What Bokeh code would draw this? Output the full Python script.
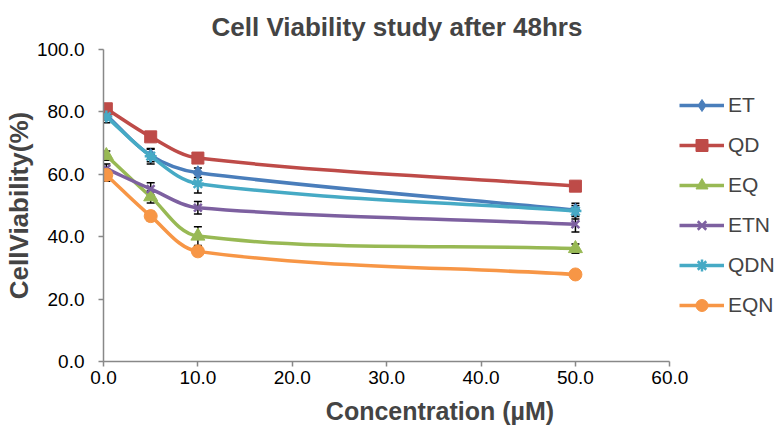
import math
from bokeh.plotting import figure
from bokeh.models import (ColumnDataSource, Whisker, TeeHead, Legend, LegendItem,
                          Range1d, FixedTicker, NumeralTickFormatter)
from bokeh.embed import file_html
from bokeh.resources import INLINE

# ---- data ----
conc = [0.3, 5, 10, 50]
series_names = ["ET", "QD", "EQ", "ETN", "QDN", "EQN"]
et = [79.0, 66.0, 60.5, 48.5]
qd = [81.0, 72.0, 65.2, 56.2]
eq = [66.0, 52.8, 40.2, 36.2]
etn = [61.8, 55.3, 49.3, 44.0]
qdn = [78.5, 65.8, 57.0, 48.2]
eqn = [59.8, 46.6, 35.3, 27.9]
et_err = [1.5, 2.0, 1.5, 1.5]
qd_err = [1.0, 1.5, 1.5, 1.5]
eq_err = [1.5, 2.0, 3.0, 1.5]
etn_err = [1.5, 2.0, 2.0, 2.5]
qdn_err = [2.0, 2.5, 3.0, 2.5]
eqn_err = [2.0, 1.5, 1.5, 1.0]
y_ticks = [0, 20, 40, 60, 80, 100]
x_ticks = [0, 10, 20, 30, 40, 50, 60]

values = [et, qd, eq, etn, qdn, eqn]
errors = [et_err, qd_err, eq_err, etn_err, qdn_err, eqn_err]
colors = ["#4A7EBB", "#BE4B48", "#98B954", "#7D60A0", "#46AAC5", "#F79646"]
markers = ["diamond", "square", "triangle", "x", "asterisk", "circle"]
msizes = [14, 12, 14, 11, 12, 13]

W, H = 776, 429
LEFT, RIGHT, TOP, BOTTOM = 101, 0, 49, 68
AXIS_LEN = 568.0
fw = W - LEFT - RIGHT
fh = H - TOP - BOTTOM
sx = AXIS_LEN / 60.0
sy = fh / 100.0
x_end = fw / sx

p = figure(width=W, height=H, output_backend="svg", toolbar_location=None,
           x_range=Range1d(0, x_end), y_range=Range1d(0, 100),
           min_border_left=LEFT, min_border_right=RIGHT,
           min_border_top=TOP, min_border_bottom=BOTTOM)
p.outline_line_color = None
p.xgrid.grid_line_color = None
p.ygrid.grid_line_color = None

p.title.text = "Cell Viability study after 48hrs"
p.title.align = "left"
p.title.offset = 108
p.title.text_font = "Liberation Sans"
p.title.text_font_style = "bold"
p.title.text_font_size = "26px"
p.title.standoff = 15

for ax in (p.xaxis[0], p.yaxis[0]):
    ax.axis_line_color = "#888888"
    ax.axis_line_width = 1.5
    ax.major_tick_line_color = "#888888"
    ax.major_tick_line_width = 1.5
    ax.major_tick_out = 5
    ax.major_tick_in = 0
    ax.minor_tick_line_color = None
    ax.major_label_text_font = "Liberation Sans"
    ax.major_label_text_font_size = "19px"
    ax.major_label_text_color = "black"
    ax.axis_label_text_font = "Liberation Sans"
    ax.axis_label_text_font_style = "bold"
    ax.formatter = NumeralTickFormatter(format="0.0")

p.xaxis[0].bounds = (0, 60)
p.xaxis[0].ticker = FixedTicker(ticks=x_ticks)
p.yaxis[0].ticker = FixedTicker(ticks=y_ticks)
p.xaxis[0].axis_label = "Concentration (µM)"
p.yaxis[0].axis_label = "CellViability(%)"
p.xaxis[0].axis_label_text_font_size = "25px"
p.yaxis[0].axis_label_text_font_size = "26px"
p.xaxis[0].major_label_standoff = 4
p.yaxis[0].major_label_standoff = 14
p.xaxis[0].axis_label_standoff = 10
p.yaxis[0].axis_label_standoff = 0


def smooth(xs, ys, k=0.33):
    P = [(x * sx, y * sy) for x, y in zip(xs, ys)]
    n = len(P)
    out = dict(x0=[], y0=[], x1=[], y1=[], cx0=[], cy0=[], cx1=[], cy1=[])
    for i in range(n - 1):
        p0 = P[i - 1] if i > 0 else P[i]
        p1, p2 = P[i], P[i + 1]
        p3 = P[i + 2] if i + 2 < n else P[i + 1]
        L = math.hypot(p2[0] - p1[0], p2[1] - p1[1])
        t1 = (p2[0] - p0[0], p2[1] - p0[1])
        n1 = math.hypot(*t1)
        t2 = (p3[0] - p1[0], p3[1] - p1[1])
        n2 = math.hypot(*t2)
        c1 = (p1[0] + t1[0] / n1 * L * k, p1[1] + t1[1] / n1 * L * k)
        c2 = (p2[0] - t2[0] / n2 * L * k, p2[1] - t2[1] / n2 * L * k)
        out["x0"].append(p1[0] / sx); out["y0"].append(p1[1] / sy)
        out["x1"].append(p2[0] / sx); out["y1"].append(p2[1] / sy)
        out["cx0"].append(c1[0] / sx); out["cy0"].append(c1[1] / sy)
        out["cx1"].append(c2[0] / sx); out["cy1"].append(c2[1] / sy)
    return out


items = []
scatters = []
for name, ys, err, c, m, ms in zip(series_names, values, errors, colors, markers, msizes):
    bz = p.bezier(source=ColumnDataSource(smooth(conc, ys)), x0="x0", y0="y0", x1="x1", y1="y1",
                  cx0="cx0", cy0="cy0", cx1="cx1", cy1="cy1", line_color=c, line_width=3.5)
    src = ColumnDataSource(dict(x=conc, y=ys,
                                lo=[v - e for v, e in zip(ys, err)],
                                hi=[v + e for v, e in zip(ys, err)]))
    if m in ("x", "asterisk"):
        sc = p.scatter("x", "y", source=src, marker=m, size=ms, line_color=c, line_width=2.5,
                       fill_color=c)
    else:
        sc = p.scatter("x", "y", source=src, marker=m, size=ms, line_color=c, fill_color=c)
    scatters.append((src, sc))
    items.append(LegendItem(label=name, renderers=[bz, sc]))

for src, sc in scatters:
    w = Whisker(source=src, base="x", lower="lo", upper="hi", line_color="black", line_width=1.5,
                upper_head=TeeHead(size=8, line_color="black", line_width=1.5),
                lower_head=TeeHead(size=8, line_color="black", line_width=1.5))
    p.add_layout(w)

legend = Legend(items=items, location=(576, 41), border_line_color=None,
                background_fill_alpha=0, glyph_width=45, glyph_height=30,
                label_standoff=4, spacing=10, padding=0, margin=0,
                label_text_font="Liberation Sans", label_text_font_size="21px")
p.add_layout(legend, "center")

open("out.html", "w").write(file_html(p, INLINE))
